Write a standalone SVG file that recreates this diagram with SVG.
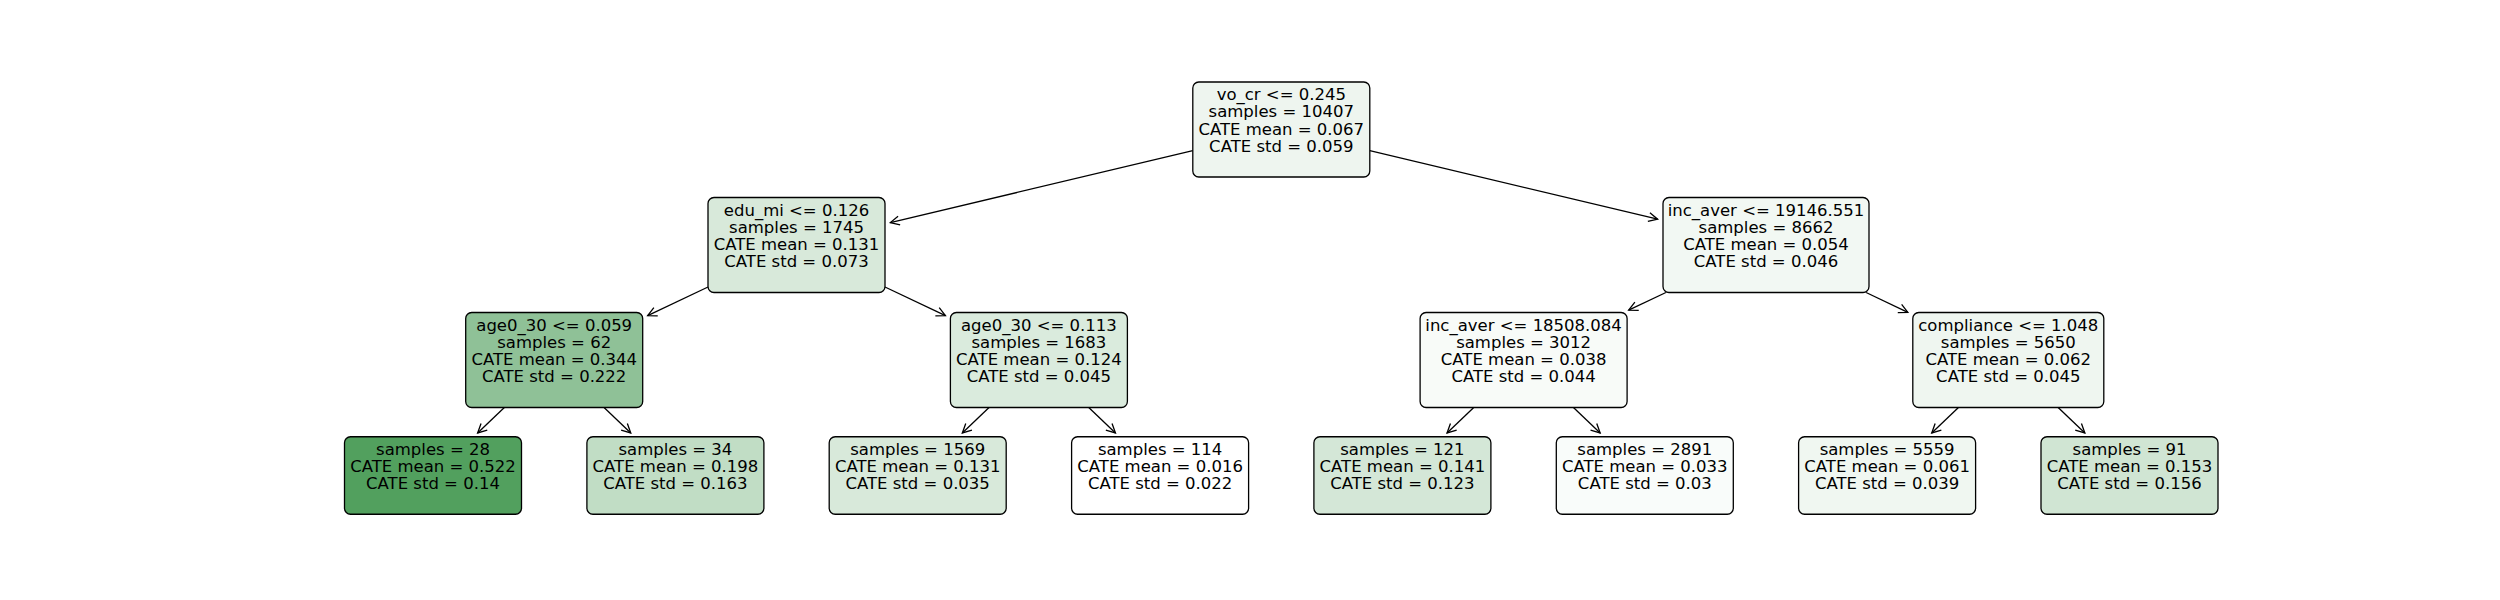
<svg xmlns="http://www.w3.org/2000/svg" width="2500" height="600" viewBox="0 0 2500 600">
<style>
.box{stroke:#000;stroke-width:1.3}
.t{font-family:"DejaVu Sans","Liberation Sans",sans-serif;font-size:16.5px;fill:#000;text-anchor:middle}
.e{stroke:#000;stroke-width:1.3;fill:none;marker-end:url(#ah)}
</style>
<defs>
<marker id="ah" markerUnits="userSpaceOnUse" markerWidth="14" markerHeight="14" viewBox="-12 -7 14 14" refX="0" refY="0" orient="auto">
<path d="M-9,-4.5 L0,0 L-9,4.5" fill="none" stroke="#000" stroke-width="1.3"/>
</marker>
</defs>
<rect width="2500" height="600" fill="#fff"/>
<g id="connectors">
<line class="e" x1="1192.8" y1="150.6" x2="890.35" y2="222.6"/>
<line class="e" x1="1369.8" y1="150.6" x2="1657.65" y2="219.2"/>
<line class="e" x1="708" y1="287" x2="647.67" y2="315.64"/>
<line class="e" x1="885" y1="287" x2="945.43" y2="315.64"/>
<line class="e" x1="1665.9" y1="292.5" x2="1628.67" y2="310.14"/>
<line class="e" x1="1866.1" y1="292.5" x2="1907.83" y2="312.34"/>
<line class="e" x1="504.35" y1="407.5" x2="477.64" y2="432.96"/>
<line class="e" x1="604.05" y1="407.5" x2="630.76" y2="432.96"/>
<line class="e" x1="989.05" y1="407.5" x2="962.34" y2="432.96"/>
<line class="e" x1="1088.75" y1="407.5" x2="1115.46" y2="432.96"/>
<line class="e" x1="1473.75" y1="407.5" x2="1447.04" y2="432.96"/>
<line class="e" x1="1573.45" y1="407.5" x2="1600.16" y2="432.96"/>
<line class="e" x1="1958.45" y1="407.5" x2="1931.74" y2="432.96"/>
<line class="e" x1="2058.15" y1="407.5" x2="2084.86" y2="432.96"/>
</g>
<g id="node0">
<rect class="box" x="1192.8" y="82" width="177" height="95" rx="6" fill="#eef5ef"/>
<text class="t"><tspan x="1281.3" y="100">vo_cr &lt;= 0.245</tspan><tspan x="1281.3" y="117.3">samples = 10407</tspan><tspan x="1281.3" y="134.6">CATE mean = 0.067</tspan><tspan x="1281.3" y="151.9">CATE std = 0.059</tspan></text>
</g>
<g id="node1">
<rect class="box" x="708" y="197.5" width="177" height="95" rx="6" fill="#d8e9da"/>
<text class="t"><tspan x="796.5" y="215.5">edu_mi &lt;= 0.126</tspan><tspan x="796.5" y="232.8">samples = 1745</tspan><tspan x="796.5" y="250.1">CATE mean = 0.131</tspan><tspan x="796.5" y="267.4">CATE std = 0.073</tspan></text>
</g>
<g id="node2">
<rect class="box" x="465.7" y="312.5" width="177" height="95" rx="6" fill="#8fc197"/>
<text class="t"><tspan x="554.2" y="330.5">age0_30 &lt;= 0.059</tspan><tspan x="554.2" y="347.8">samples = 62</tspan><tspan x="554.2" y="365.1">CATE mean = 0.344</tspan><tspan x="554.2" y="382.4">CATE std = 0.222</tspan></text>
</g>
<g id="node3">
<rect class="box" x="344.5" y="436.75" width="177" height="77.5" rx="6" fill="#52a05e"/>
<text class="t"><tspan x="433" y="454.75">samples = 28</tspan><tspan x="433" y="472.05">CATE mean = 0.522</tspan><tspan x="433" y="489.35">CATE std = 0.14</tspan></text>
</g>
<g id="node4">
<rect class="box" x="586.9" y="436.75" width="177" height="77.5" rx="6" fill="#c1ddc5"/>
<text class="t"><tspan x="675.4" y="454.75">samples = 34</tspan><tspan x="675.4" y="472.05">CATE mean = 0.198</tspan><tspan x="675.4" y="489.35">CATE std = 0.163</tspan></text>
</g>
<g id="node5">
<rect class="box" x="950.4" y="312.5" width="177" height="95" rx="6" fill="#daebdd"/>
<text class="t"><tspan x="1038.9" y="330.5">age0_30 &lt;= 0.113</tspan><tspan x="1038.9" y="347.8">samples = 1683</tspan><tspan x="1038.9" y="365.1">CATE mean = 0.124</tspan><tspan x="1038.9" y="382.4">CATE std = 0.045</tspan></text>
</g>
<g id="node6">
<rect class="box" x="829.2" y="436.75" width="177" height="77.5" rx="6" fill="#d8e9da"/>
<text class="t"><tspan x="917.7" y="454.75">samples = 1569</tspan><tspan x="917.7" y="472.05">CATE mean = 0.131</tspan><tspan x="917.7" y="489.35">CATE std = 0.035</tspan></text>
</g>
<g id="node7">
<rect class="box" x="1071.6" y="436.75" width="177" height="77.5" rx="6" fill="#ffffff"/>
<text class="t"><tspan x="1160.1" y="454.75">samples = 114</tspan><tspan x="1160.1" y="472.05">CATE mean = 0.016</tspan><tspan x="1160.1" y="489.35">CATE std = 0.022</tspan></text>
</g>
<g id="node8">
<rect class="box" x="1663" y="197.5" width="206" height="95" rx="6" fill="#f2f8f3"/>
<text class="t"><tspan x="1766" y="215.5">inc_aver &lt;= 19146.551</tspan><tspan x="1766" y="232.8">samples = 8662</tspan><tspan x="1766" y="250.1">CATE mean = 0.054</tspan><tspan x="1766" y="267.4">CATE std = 0.046</tspan></text>
</g>
<g id="node9">
<rect class="box" x="1420.1" y="312.5" width="207" height="95" rx="6" fill="#f8fbf8"/>
<text class="t"><tspan x="1523.6" y="330.5">inc_aver &lt;= 18508.084</tspan><tspan x="1523.6" y="347.8">samples = 3012</tspan><tspan x="1523.6" y="365.1">CATE mean = 0.038</tspan><tspan x="1523.6" y="382.4">CATE std = 0.044</tspan></text>
</g>
<g id="node10">
<rect class="box" x="1313.9" y="436.75" width="177" height="77.5" rx="6" fill="#d4e7d7"/>
<text class="t"><tspan x="1402.4" y="454.75">samples = 121</tspan><tspan x="1402.4" y="472.05">CATE mean = 0.141</tspan><tspan x="1402.4" y="489.35">CATE std = 0.123</tspan></text>
</g>
<g id="node11">
<rect class="box" x="1556.3" y="436.75" width="177" height="77.5" rx="6" fill="#f9fcfa"/>
<text class="t"><tspan x="1644.8" y="454.75">samples = 2891</tspan><tspan x="1644.8" y="472.05">CATE mean = 0.033</tspan><tspan x="1644.8" y="489.35">CATE std = 0.03</tspan></text>
</g>
<g id="node12">
<rect class="box" x="1912.8" y="312.5" width="191" height="95" rx="6" fill="#eff6f0"/>
<text class="t"><tspan x="2008.3" y="330.5">compliance &lt;= 1.048</tspan><tspan x="2008.3" y="347.8">samples = 5650</tspan><tspan x="2008.3" y="365.1">CATE mean = 0.062</tspan><tspan x="2008.3" y="382.4">CATE std = 0.045</tspan></text>
</g>
<g id="node13">
<rect class="box" x="1798.6" y="436.75" width="177" height="77.5" rx="6" fill="#f0f7f1"/>
<text class="t"><tspan x="1887.1" y="454.75">samples = 5559</tspan><tspan x="1887.1" y="472.05">CATE mean = 0.061</tspan><tspan x="1887.1" y="489.35">CATE std = 0.039</tspan></text>
</g>
<g id="node14">
<rect class="box" x="2041" y="436.75" width="177" height="77.5" rx="6" fill="#d0e5d3"/>
<text class="t"><tspan x="2129.5" y="454.75">samples = 91</tspan><tspan x="2129.5" y="472.05">CATE mean = 0.153</tspan><tspan x="2129.5" y="489.35">CATE std = 0.156</tspan></text>
</g>
</svg>
